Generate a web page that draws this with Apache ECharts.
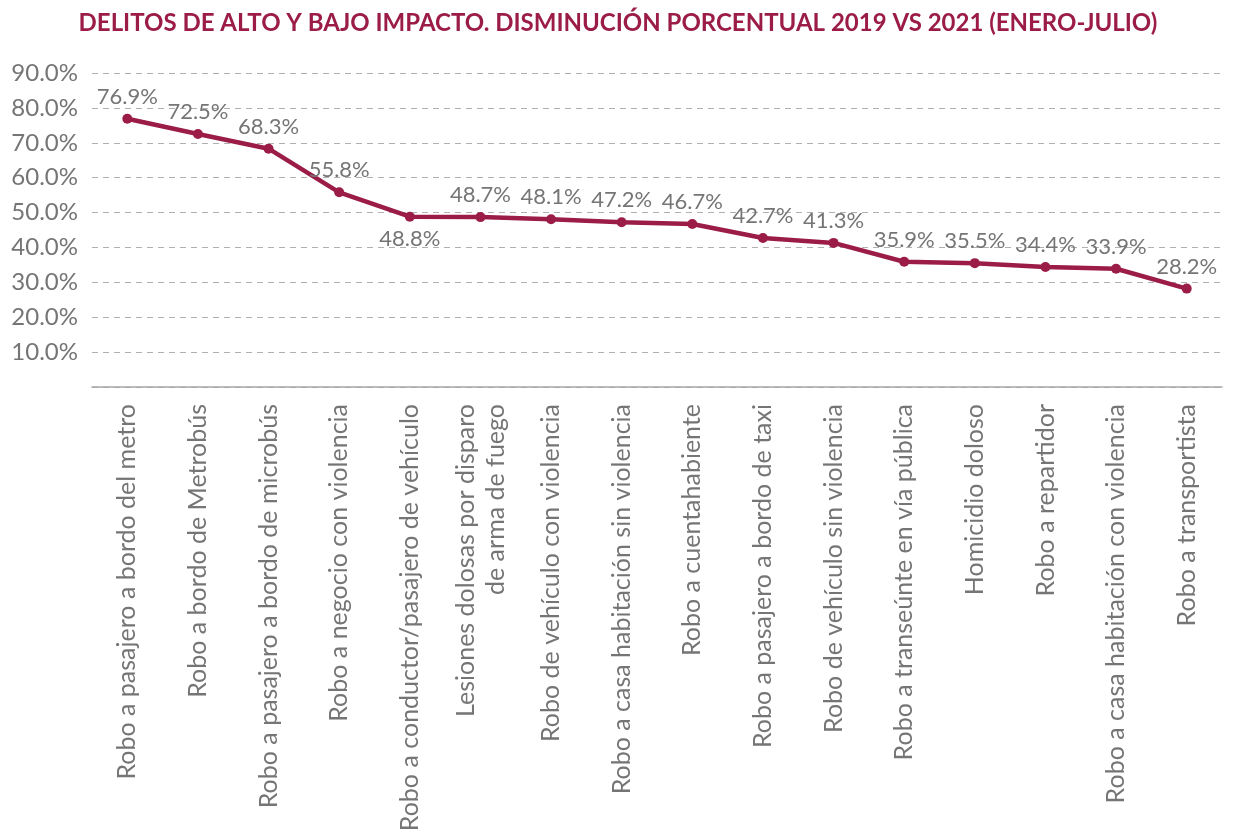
<!DOCTYPE html>
<html>
<head>
<meta charset="utf-8">
<script src="https://cdn.jsdelivr.net/npm/echarts@6/dist/echarts.min.js"></script>
<style>
  html, body { margin: 0; padding: 0; background: #ffffff; }
  #chart { width: 1236px; height: 840px; }
</style>
</head>
<body>
<div id="chart"></div>
<script>
// Crime categories (Jan–Jul), ordered by percentage decrease
const categories = [
  'Robo a pasajero a bordo del metro',
  'Robo a bordo de Metrobús',
  'Robo a pasajero a bordo de microbús',
  'Robo a negocio con violencia',
  'Robo a conductor/pasajero de vehículo',
  'Lesiones dolosas por disparo\nde arma de fuego',
  'Robo de vehículo con violencia',
  'Robo a casa habitación sin violencia',
  'Robo a cuentahabiente',
  'Robo a pasajero a bordo de taxi',
  'Robo de vehículo sin violencia',
  'Robo a transeúnte en vía pública',
  'Homicidio doloso',
  'Robo a repartidor',
  'Robo a casa habitación con violencia',
  'Robo a transportista'
];

// Percentage decrease 2019 vs 2021
const decrease = [76.9, 72.5, 68.3, 55.8, 48.8, 48.7, 48.1, 47.2, 46.7, 42.7, 41.3, 35.9, 35.5, 34.4, 33.9, 28.2];

// Y-axis ticks
const yTicks = [0, 10, 20, 30, 40, 50, 60, 70, 80, 90];

const FONT = 'Lato, "Noto Sans", sans-serif';
const GREY = '#757575';
const WINE = '#9b1d47';

const chart = echarts.init(document.getElementById('chart'), null, { renderer: 'canvas' });

chart.setOption({
  backgroundColor: '#ffffff',
  animation: false,
  title: {
    text: 'DELITOS DE ALTO Y BAJO IMPACTO. DISMINUCIÓN PORCENTUAL 2019 VS 2021 (ENERO-JULIO)',
    left: 'center',
    top: 6,
    textStyle: { color: WINE, fontFamily: FONT, fontWeight: 'bold', fontSize: 24 }
  },
  grid: { left: 92, right: 14, top: 73, bottom: 453, containLabel: false },
  xAxis: {
    type: 'category',
    data: categories,
    boundaryGap: true,
    axisLine: { show: true, lineStyle: { color: '#a6a6a6', width: 1.5 } },
    axisTick: { show: false },
    axisLabel: {
      rotate: 90,
      interval: 0,
      margin: 17,
      color: GREY,
      fontFamily: FONT,
      fontSize: 25,
      lineHeight: 30
    }
  },
  yAxis: {
    type: 'value',
    min: yTicks[0],
    max: yTicks[yTicks.length - 1],
    interval: 10,
    axisLine: { show: false },
    axisTick: { show: false },
    axisLabel: {
      margin: 14,
      color: GREY,
      fontFamily: FONT,
      fontSize: 24,
      formatter: v => (v === 0 ? '' : v.toFixed(1) + '%')
    },
    splitLine: {
      show: true,
      lineStyle: { color: '#b0b0b0', type: [6, 5], width: 1 }
    }
  },
  series: [{
    type: 'line',
    data: decrease.map((v, i) => ({
      value: v,
      label: i === 4 ? { position: 'bottom', distance: 6 } : undefined
    })),
    lineStyle: { color: WINE, width: 4.5 },
    itemStyle: { color: WINE },
    symbol: 'circle',
    symbolSize: 10,
    label: {
      show: true,
      position: 'top',
      distance: 6,
      color: GREY,
      fontFamily: FONT,
      fontSize: 22,
      formatter: p => p.value.toFixed(1) + '%'
    }
  }]
});
</script>
</body>
</html>
